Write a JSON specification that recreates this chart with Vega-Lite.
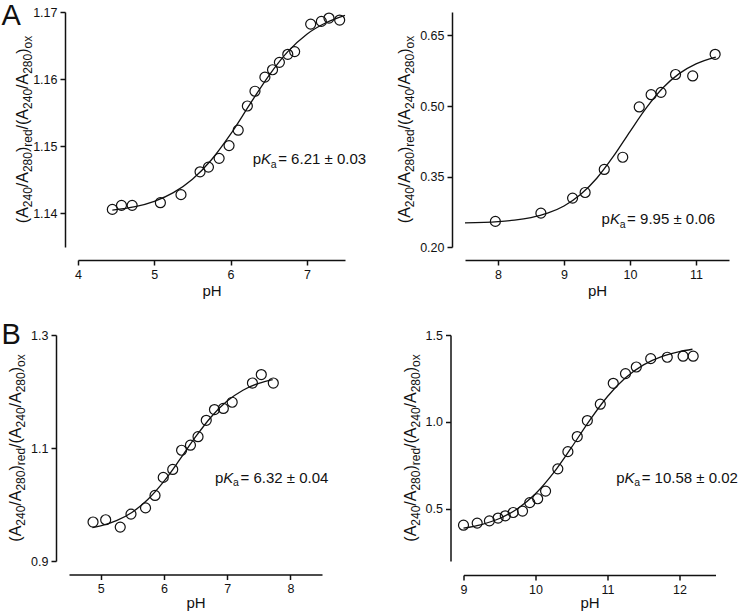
{
  "$schema": "https://vega.github.io/schema/vega-lite/v6.json",
  "background": "white",
  "padding": {"left": 0, "top": 1, "right": 5, "bottom": 5},
  "config": {
    "view": {"stroke": null},
    "font": "Liberation Sans",
    "text": {"font": "Liberation Sans", "color": "#111"},
    "axis": {
      "grid": false,
      "domainColor": "#111",
      "domainWidth": 1.5,
      "tickColor": "#111",
      "tickWidth": 1.5,
      "tickSize": 5,
      "labelColor": "#111",
      "labelFont": "Liberation Sans",
      "labelFontSize": 12.5,
      "labelPadding": 3,
      "titleFont": "Liberation Sans",
      "titleFontSize": 15,
      "titleFontWeight": "normal",
      "titleColor": "#111"
    }
  },
  "datasets": {
    "a1_obs": [
      {"pH": 4.45, "ratio": 1.1406}, {"pH": 4.57, "ratio": 1.1412}, {"pH": 4.71, "ratio": 1.1412},
      {"pH": 5.08, "ratio": 1.1416}, {"pH": 5.35, "ratio": 1.1428}, {"pH": 5.60, "ratio": 1.1462},
      {"pH": 5.71, "ratio": 1.1469}, {"pH": 5.85, "ratio": 1.1482}, {"pH": 5.98, "ratio": 1.1501},
      {"pH": 6.10, "ratio": 1.1524}, {"pH": 6.22, "ratio": 1.1560}, {"pH": 6.32, "ratio": 1.1582},
      {"pH": 6.45, "ratio": 1.1603}, {"pH": 6.55, "ratio": 1.1614}, {"pH": 6.64, "ratio": 1.1625},
      {"pH": 6.75, "ratio": 1.1637}, {"pH": 6.84, "ratio": 1.1641}, {"pH": 7.05, "ratio": 1.1682},
      {"pH": 7.19, "ratio": 1.1686}, {"pH": 7.29, "ratio": 1.1691}, {"pH": 7.43, "ratio": 1.1688}
    ],
    "a1_fit": [
      {"pH": 4.45, "ratio": 1.1405}, {"pH": 4.75, "ratio": 1.1410}, {"pH": 5.0, "ratio": 1.1418},
      {"pH": 5.25, "ratio": 1.1431}, {"pH": 5.5, "ratio": 1.1451}, {"pH": 5.75, "ratio": 1.1480},
      {"pH": 6.0, "ratio": 1.1518}, {"pH": 6.25, "ratio": 1.1562}, {"pH": 6.5, "ratio": 1.1605},
      {"pH": 6.75, "ratio": 1.1641}, {"pH": 7.0, "ratio": 1.1667}, {"pH": 7.25, "ratio": 1.1684},
      {"pH": 7.5, "ratio": 1.1695}
    ],
    "a2_obs": [
      {"pH": 7.96, "ratio": 0.2545}, {"pH": 8.65, "ratio": 0.272}, {"pH": 9.13, "ratio": 0.304},
      {"pH": 9.32, "ratio": 0.316}, {"pH": 9.61, "ratio": 0.365}, {"pH": 9.89, "ratio": 0.391},
      {"pH": 10.14, "ratio": 0.498}, {"pH": 10.32, "ratio": 0.524}, {"pH": 10.47, "ratio": 0.529},
      {"pH": 10.69, "ratio": 0.567}, {"pH": 10.95, "ratio": 0.564}, {"pH": 11.29, "ratio": 0.610}
    ],
    "a2_fit": [
      {"pH": 7.5, "ratio": 0.2513}, {"pH": 8.0, "ratio": 0.2541}, {"pH": 8.25, "ratio": 0.2572},
      {"pH": 8.5, "ratio": 0.2627}, {"pH": 8.75, "ratio": 0.2719}, {"pH": 9.0, "ratio": 0.2873},
      {"pH": 9.25, "ratio": 0.3116}, {"pH": 9.5, "ratio": 0.3469}, {"pH": 9.75, "ratio": 0.3931},
      {"pH": 10.0, "ratio": 0.4457}, {"pH": 10.25, "ratio": 0.4965}, {"pH": 10.5, "ratio": 0.5387},
      {"pH": 10.75, "ratio": 0.5694}, {"pH": 11.0, "ratio": 0.5897}, {"pH": 11.3, "ratio": 0.6041}
    ],
    "b1_obs": [
      {"pH": 4.88, "ratio": 0.969}, {"pH": 5.08, "ratio": 0.973}, {"pH": 5.31, "ratio": 0.960},
      {"pH": 5.48, "ratio": 0.983}, {"pH": 5.71, "ratio": 0.994}, {"pH": 5.86, "ratio": 1.016},
      {"pH": 5.99, "ratio": 1.048}, {"pH": 6.14, "ratio": 1.062}, {"pH": 6.28, "ratio": 1.096},
      {"pH": 6.42, "ratio": 1.105}, {"pH": 6.54, "ratio": 1.120}, {"pH": 6.67, "ratio": 1.149},
      {"pH": 6.80, "ratio": 1.168}, {"pH": 6.94, "ratio": 1.170}, {"pH": 7.08, "ratio": 1.181},
      {"pH": 7.40, "ratio": 1.215}, {"pH": 7.54, "ratio": 1.230}, {"pH": 7.73, "ratio": 1.215}
    ],
    "b1_fit": [
      {"pH": 4.87, "ratio": 0.9590}, {"pH": 5.0, "ratio": 0.9622}, {"pH": 5.25, "ratio": 0.9715},
      {"pH": 5.5, "ratio": 0.9864}, {"pH": 5.75, "ratio": 1.0093}, {"pH": 6.0, "ratio": 1.0408},
      {"pH": 6.25, "ratio": 1.0793}, {"pH": 6.5, "ratio": 1.1195}, {"pH": 6.75, "ratio": 1.1554},
      {"pH": 7.0, "ratio": 1.1831}, {"pH": 7.25, "ratio": 1.2023}, {"pH": 7.5, "ratio": 1.2145},
      {"pH": 7.72, "ratio": 1.2212}
    ],
    "b2_obs": [
      {"pH": 9.00, "ratio": 0.406}, {"pH": 9.19, "ratio": 0.418}, {"pH": 9.36, "ratio": 0.431},
      {"pH": 9.48, "ratio": 0.447}, {"pH": 9.58, "ratio": 0.460}, {"pH": 9.69, "ratio": 0.479},
      {"pH": 9.82, "ratio": 0.487}, {"pH": 9.92, "ratio": 0.536}, {"pH": 10.03, "ratio": 0.558},
      {"pH": 10.14, "ratio": 0.602}, {"pH": 10.31, "ratio": 0.730}, {"pH": 10.45, "ratio": 0.829},
      {"pH": 10.58, "ratio": 0.916}, {"pH": 10.72, "ratio": 1.008}, {"pH": 10.90, "ratio": 1.102},
      {"pH": 11.08, "ratio": 1.222}, {"pH": 11.25, "ratio": 1.278}, {"pH": 11.40, "ratio": 1.316},
      {"pH": 11.60, "ratio": 1.364}, {"pH": 11.83, "ratio": 1.372}, {"pH": 12.05, "ratio": 1.378},
      {"pH": 12.19, "ratio": 1.378}
    ],
    "b2_fit": [
      {"pH": 9.0, "ratio": 0.389}, {"pH": 9.25, "ratio": 0.4097}, {"pH": 9.5, "ratio": 0.4445},
      {"pH": 9.75, "ratio": 0.5008}, {"pH": 10.0, "ratio": 0.5868}, {"pH": 10.25, "ratio": 0.7066},
      {"pH": 10.5, "ratio": 0.8532}, {"pH": 10.75, "ratio": 1.0076}, {"pH": 11.0, "ratio": 1.1462},
      {"pH": 11.25, "ratio": 1.2538}, {"pH": 11.5, "ratio": 1.3284}, {"pH": 11.75, "ratio": 1.376},
      {"pH": 12.0, "ratio": 1.4049}, {"pH": 12.18, "ratio": 1.418}
    ]
  },
  "spacing": 22,
  "vconcat": [
    {
      "spacing": 29,
      "hconcat": [
        {
          "spacing": 0,
          "hconcat": [
            {"width": 1, "height": 1, "data": {"values": [{}]}, "mark": {"type": "point", "opacity": 0, "size": 1}},
            {
              "width": 267, "height": 235,
              "layer": [
                {"data": {"name": "a1_fit"}, "mark": {"type": "line", "color": "#111", "strokeWidth": 1.3, "interpolate": "monotone"},
                 "encoding": {
                   "x": {"field": "pH", "type": "quantitative", "scale": {"domain": [4, 7.5], "nice": false, "zero": false}, "axis": {"values": [4, 5, 6, 7], "format": "d", "title": "pH", "offset": 13, "labelFlush": false, "titlePadding": 3}},
                   "y": {"field": "ratio", "type": "quantitative", "scale": {"domain": [1.135, 1.17], "nice": false, "zero": false}, "axis": {"values": [1.14, 1.15, 1.16, 1.17], "format": ".2f", "title": null, "offset": 13}}
                 }},
                {"data": {"name": "a1_obs"}, "mark": {"type": "point", "shape": "circle", "filled": false, "size": 100, "color": "#111", "strokeWidth": 1.2, "opacity": 1},
                 "encoding": {"x": {"field": "pH", "type": "quantitative"}, "y": {"field": "ratio", "type": "quantitative"}}},
                {"data": {"values": [{}]},
                 "encoding": {"x": {"datum": 4, "type": "quantitative"}, "y": {"datum": 1.1525, "type": "quantitative"}},
                 "layer": [
                   {"mark": {"type": "text", "text": "(A", "angle": 270, "align": "left", "baseline": "alphabetic", "fontSize": 16, "dx": -93.7, "dy": -50}},
                   {"mark": {"type": "text", "text": "240", "angle": 270, "align": "left", "baseline": "alphabetic", "fontSize": 12, "dx": -77.7, "dy": -46}},
                   {"mark": {"type": "text", "text": "/A", "angle": 270, "align": "left", "baseline": "alphabetic", "fontSize": 16, "dx": -57.7, "dy": -50}},
                   {"mark": {"type": "text", "text": "280", "angle": 270, "align": "left", "baseline": "alphabetic", "fontSize": 12, "dx": -42.6, "dy": -46}},
                   {"mark": {"type": "text", "text": ")", "angle": 270, "align": "left", "baseline": "alphabetic", "fontSize": 16, "dx": -22.5, "dy": -50}},
                   {"mark": {"type": "text", "text": "red", "angle": 270, "align": "left", "baseline": "alphabetic", "fontSize": 12, "dx": -17.2, "dy": -46}},
                   {"mark": {"type": "text", "text": "/(A", "angle": 270, "align": "left", "baseline": "alphabetic", "fontSize": 16, "dx": 0.1, "dy": -50}},
                   {"mark": {"type": "text", "text": "240", "angle": 270, "align": "left", "baseline": "alphabetic", "fontSize": 12, "dx": 20.6, "dy": -46}},
                   {"mark": {"type": "text", "text": "/A", "angle": 270, "align": "left", "baseline": "alphabetic", "fontSize": 16, "dx": 40.6, "dy": -50}},
                   {"mark": {"type": "text", "text": "280", "angle": 270, "align": "left", "baseline": "alphabetic", "fontSize": 12, "dx": 55.7, "dy": -46}},
                   {"mark": {"type": "text", "text": ")", "angle": 270, "align": "left", "baseline": "alphabetic", "fontSize": 16, "dx": 75.7, "dy": -50}},
                   {"mark": {"type": "text", "text": "ox", "angle": 270, "align": "left", "baseline": "alphabetic", "fontSize": 12, "dx": 81.0, "dy": -46}}
                 ]},
                {"data": {"values": [{}]},
                 "encoding": {"x": {"datum": 4, "type": "quantitative"}, "y": {"datum": 1.17, "type": "quantitative"}},
                 "mark": {"type": "text", "text": "A", "align": "left", "baseline": "alphabetic", "fontSize": 29, "dx": -76.5, "dy": 12.6}},
                {"data": {"values": [{}]},
                 "encoding": {"x": {"datum": 6.29, "type": "quantitative"}, "y": {"datum": 1.1473, "type": "quantitative"}},
                 "layer": [
                   {"mark": {"type": "text", "text": "p", "align": "left", "baseline": "alphabetic", "fontSize": 15, "dx": 0}},
                   {"mark": {"type": "text", "text": "K", "align": "left", "baseline": "alphabetic", "fontSize": 15, "fontStyle": "italic", "dx": 8.3}},
                   {"mark": {"type": "text", "text": "a", "align": "left", "baseline": "alphabetic", "fontSize": 10.5, "dx": 18.1, "dy": 3.5}},
                   {"mark": {"type": "text", "text": " = 6.21 ± 0.03", "align": "left", "baseline": "alphabetic", "fontSize": 15, "dx": 25.5}}
                 ]}
              ]
            }
          ]
        },
        {
          "width": 264, "height": 235,
          "layer": [
            {"data": {"name": "a2_fit"}, "mark": {"type": "line", "color": "#111", "strokeWidth": 1.3, "interpolate": "monotone"},
             "encoding": {
               "x": {"field": "pH", "type": "quantitative", "scale": {"domain": [7.5, 11.5], "nice": false, "zero": false}, "axis": {"values": [8, 9, 10, 11], "format": "d", "title": "pH", "offset": 13, "labelFlush": false, "titlePadding": 3}},
               "y": {"field": "ratio", "type": "quantitative", "scale": {"domain": [0.2, 0.7], "nice": false, "zero": false}, "axis": {"values": [0.2, 0.35, 0.5, 0.65], "format": ".2f", "title": null, "offset": 13}}
             }},
            {"data": {"name": "a2_obs"}, "mark": {"type": "point", "shape": "circle", "filled": false, "size": 100, "color": "#111", "strokeWidth": 1.2, "opacity": 1},
             "encoding": {"x": {"field": "pH", "type": "quantitative"}, "y": {"field": "ratio", "type": "quantitative"}}},
            {"data": {"values": [{}]},
             "encoding": {"x": {"datum": 7.5, "type": "quantitative"}, "y": {"datum": 0.45, "type": "quantitative"}},
             "layer": [
               {"mark": {"type": "text", "text": "(A", "angle": 270, "align": "left", "baseline": "alphabetic", "fontSize": 16, "dx": -93.7, "dy": -55}},
               {"mark": {"type": "text", "text": "240", "angle": 270, "align": "left", "baseline": "alphabetic", "fontSize": 12, "dx": -77.7, "dy": -51}},
               {"mark": {"type": "text", "text": "/A", "angle": 270, "align": "left", "baseline": "alphabetic", "fontSize": 16, "dx": -57.7, "dy": -55}},
               {"mark": {"type": "text", "text": "280", "angle": 270, "align": "left", "baseline": "alphabetic", "fontSize": 12, "dx": -42.6, "dy": -51}},
               {"mark": {"type": "text", "text": ")", "angle": 270, "align": "left", "baseline": "alphabetic", "fontSize": 16, "dx": -22.5, "dy": -55}},
               {"mark": {"type": "text", "text": "red", "angle": 270, "align": "left", "baseline": "alphabetic", "fontSize": 12, "dx": -17.2, "dy": -51}},
               {"mark": {"type": "text", "text": "/(A", "angle": 270, "align": "left", "baseline": "alphabetic", "fontSize": 16, "dx": 0.1, "dy": -55}},
               {"mark": {"type": "text", "text": "240", "angle": 270, "align": "left", "baseline": "alphabetic", "fontSize": 12, "dx": 20.6, "dy": -51}},
               {"mark": {"type": "text", "text": "/A", "angle": 270, "align": "left", "baseline": "alphabetic", "fontSize": 16, "dx": 40.6, "dy": -55}},
               {"mark": {"type": "text", "text": "280", "angle": 270, "align": "left", "baseline": "alphabetic", "fontSize": 12, "dx": 55.7, "dy": -51}},
               {"mark": {"type": "text", "text": ")", "angle": 270, "align": "left", "baseline": "alphabetic", "fontSize": 16, "dx": 75.7, "dy": -55}},
               {"mark": {"type": "text", "text": "ox", "angle": 270, "align": "left", "baseline": "alphabetic", "fontSize": 12, "dx": 81.0, "dy": -51}}
             ]},
            {"data": {"values": [{}]},
             "encoding": {"x": {"datum": 9.57, "type": "quantitative"}, "y": {"datum": 0.2479, "type": "quantitative"}},
             "layer": [
               {"mark": {"type": "text", "text": "p", "align": "left", "baseline": "alphabetic", "fontSize": 15, "dx": 0}},
               {"mark": {"type": "text", "text": "K", "align": "left", "baseline": "alphabetic", "fontSize": 15, "fontStyle": "italic", "dx": 8.3}},
               {"mark": {"type": "text", "text": "a", "align": "left", "baseline": "alphabetic", "fontSize": 10.5, "dx": 18.1, "dy": 3.5}},
               {"mark": {"type": "text", "text": " = 9.95 ± 0.06", "align": "left", "baseline": "alphabetic", "fontSize": 15, "dx": 25.5}}
             ]}
          ]
        }
      ]
    },
    {
      "spacing": 72.5,
      "hconcat": [
        {
          "spacing": 0,
          "hconcat": [
            {"width": 1, "height": 1, "data": {"values": [{}]}, "mark": {"type": "point", "opacity": 0, "size": 1}},
            {
              "width": 253, "height": 226,
              "layer": [
                {"data": {"name": "b1_fit"}, "mark": {"type": "line", "color": "#111", "strokeWidth": 1.3, "interpolate": "monotone"},
                 "encoding": {
                   "x": {"field": "pH", "type": "quantitative", "scale": {"domain": [4.5, 8.5], "nice": false, "zero": false}, "axis": {"values": [5, 6, 7, 8], "format": "d", "title": "pH", "offset": 13.5, "labelFlush": false, "titlePadding": 0}},
                   "y": {"field": "ratio", "type": "quantitative", "scale": {"domain": [0.9, 1.3], "nice": false, "zero": false}, "axis": {"values": [0.9, 1.1, 1.3], "format": ".1f", "title": null, "offset": 13}}
                 }},
                {"data": {"name": "b1_obs"}, "mark": {"type": "point", "shape": "circle", "filled": false, "size": 100, "color": "#111", "strokeWidth": 1.2, "opacity": 1},
                 "encoding": {"x": {"field": "pH", "type": "quantitative"}, "y": {"field": "ratio", "type": "quantitative"}}},
                {"data": {"values": [{}]},
                 "encoding": {"x": {"datum": 4.5, "type": "quantitative"}, "y": {"datum": 1.1, "type": "quantitative"}},
                 "layer": [
                   {"mark": {"type": "text", "text": "(A", "angle": 270, "align": "left", "baseline": "alphabetic", "fontSize": 16, "dx": -93.7, "dy": -48}},
                   {"mark": {"type": "text", "text": "240", "angle": 270, "align": "left", "baseline": "alphabetic", "fontSize": 12, "dx": -77.7, "dy": -44}},
                   {"mark": {"type": "text", "text": "/A", "angle": 270, "align": "left", "baseline": "alphabetic", "fontSize": 16, "dx": -57.7, "dy": -48}},
                   {"mark": {"type": "text", "text": "280", "angle": 270, "align": "left", "baseline": "alphabetic", "fontSize": 12, "dx": -42.6, "dy": -44}},
                   {"mark": {"type": "text", "text": ")", "angle": 270, "align": "left", "baseline": "alphabetic", "fontSize": 16, "dx": -22.5, "dy": -48}},
                   {"mark": {"type": "text", "text": "red", "angle": 270, "align": "left", "baseline": "alphabetic", "fontSize": 12, "dx": -17.2, "dy": -44}},
                   {"mark": {"type": "text", "text": "/(A", "angle": 270, "align": "left", "baseline": "alphabetic", "fontSize": 16, "dx": 0.1, "dy": -48}},
                   {"mark": {"type": "text", "text": "240", "angle": 270, "align": "left", "baseline": "alphabetic", "fontSize": 12, "dx": 20.6, "dy": -44}},
                   {"mark": {"type": "text", "text": "/A", "angle": 270, "align": "left", "baseline": "alphabetic", "fontSize": 16, "dx": 40.6, "dy": -48}},
                   {"mark": {"type": "text", "text": "280", "angle": 270, "align": "left", "baseline": "alphabetic", "fontSize": 12, "dx": 55.7, "dy": -44}},
                   {"mark": {"type": "text", "text": ")", "angle": 270, "align": "left", "baseline": "alphabetic", "fontSize": 16, "dx": 75.7, "dy": -48}},
                   {"mark": {"type": "text", "text": "ox", "angle": 270, "align": "left", "baseline": "alphabetic", "fontSize": 12, "dx": 81.0, "dy": -44}}
                 ]},
                {"data": {"values": [{}]},
                 "encoding": {"x": {"datum": 4.5, "type": "quantitative"}, "y": {"datum": 1.3, "type": "quantitative"}},
                 "mark": {"type": "text", "text": "B", "align": "left", "baseline": "alphabetic", "fontSize": 29, "dx": -67.5, "dy": 9.1}},
                {"data": {"values": [{}]},
                 "encoding": {"x": {"datum": 6.808, "type": "quantitative"}, "y": {"datum": 1.0386, "type": "quantitative"}},
                 "layer": [
                   {"mark": {"type": "text", "text": "p", "align": "left", "baseline": "alphabetic", "fontSize": 15, "dx": 0}},
                   {"mark": {"type": "text", "text": "K", "align": "left", "baseline": "alphabetic", "fontSize": 15, "fontStyle": "italic", "dx": 8.3}},
                   {"mark": {"type": "text", "text": "a", "align": "left", "baseline": "alphabetic", "fontSize": 10.5, "dx": 18.1, "dy": 3.5}},
                   {"mark": {"type": "text", "text": " = 6.32 ± 0.04", "align": "left", "baseline": "alphabetic", "fontSize": 15, "dx": 25.5}}
                 ]}
              ]
            }
          ]
        },
        {
          "width": 252, "height": 226,
          "layer": [
            {"data": {"name": "b2_fit"}, "mark": {"type": "line", "color": "#111", "strokeWidth": 1.3, "interpolate": "monotone"},
             "encoding": {
               "x": {"field": "pH", "type": "quantitative", "scale": {"domain": [9, 12.5], "nice": false, "zero": false}, "axis": {"values": [9, 10, 11, 12], "format": "d", "title": "pH", "offset": 14, "labelFlush": false, "titlePadding": 0}},
               "y": {"field": "ratio", "type": "quantitative", "scale": {"domain": [0.2, 1.5], "nice": false, "zero": false}, "axis": {"values": [0.5, 1.0, 1.5], "format": ".1f", "title": null, "offset": 13}}
             }},
            {"data": {"name": "b2_obs"}, "mark": {"type": "point", "shape": "circle", "filled": false, "size": 100, "color": "#111", "strokeWidth": 1.2, "opacity": 1},
             "encoding": {"x": {"field": "pH", "type": "quantitative"}, "y": {"field": "ratio", "type": "quantitative"}}},
            {"data": {"values": [{}]},
             "encoding": {"x": {"datum": 9, "type": "quantitative"}, "y": {"datum": 0.85, "type": "quantitative"}},
             "layer": [
               {"mark": {"type": "text", "text": "(A", "angle": 270, "align": "left", "baseline": "alphabetic", "fontSize": 16, "dx": -93.7, "dy": -48}},
               {"mark": {"type": "text", "text": "240", "angle": 270, "align": "left", "baseline": "alphabetic", "fontSize": 12, "dx": -77.7, "dy": -44}},
               {"mark": {"type": "text", "text": "/A", "angle": 270, "align": "left", "baseline": "alphabetic", "fontSize": 16, "dx": -57.7, "dy": -48}},
               {"mark": {"type": "text", "text": "280", "angle": 270, "align": "left", "baseline": "alphabetic", "fontSize": 12, "dx": -42.6, "dy": -44}},
               {"mark": {"type": "text", "text": ")", "angle": 270, "align": "left", "baseline": "alphabetic", "fontSize": 16, "dx": -22.5, "dy": -48}},
               {"mark": {"type": "text", "text": "red", "angle": 270, "align": "left", "baseline": "alphabetic", "fontSize": 12, "dx": -17.2, "dy": -44}},
               {"mark": {"type": "text", "text": "/(A", "angle": 270, "align": "left", "baseline": "alphabetic", "fontSize": 16, "dx": 0.1, "dy": -48}},
               {"mark": {"type": "text", "text": "240", "angle": 270, "align": "left", "baseline": "alphabetic", "fontSize": 12, "dx": 20.6, "dy": -44}},
               {"mark": {"type": "text", "text": "/A", "angle": 270, "align": "left", "baseline": "alphabetic", "fontSize": 16, "dx": 40.6, "dy": -48}},
               {"mark": {"type": "text", "text": "280", "angle": 270, "align": "left", "baseline": "alphabetic", "fontSize": 12, "dx": 55.7, "dy": -44}},
               {"mark": {"type": "text", "text": ")", "angle": 270, "align": "left", "baseline": "alphabetic", "fontSize": 16, "dx": 75.7, "dy": -48}},
               {"mark": {"type": "text", "text": "ox", "angle": 270, "align": "left", "baseline": "alphabetic", "fontSize": 12, "dx": 81.0, "dy": -44}}
             ]},
            {"data": {"values": [{}]},
             "encoding": {"x": {"datum": 11.12, "type": "quantitative"}, "y": {"datum": 0.6504, "type": "quantitative"}},
             "layer": [
               {"mark": {"type": "text", "text": "p", "align": "left", "baseline": "alphabetic", "fontSize": 15, "dx": 0}},
               {"mark": {"type": "text", "text": "K", "align": "left", "baseline": "alphabetic", "fontSize": 15, "fontStyle": "italic", "dx": 8.3}},
               {"mark": {"type": "text", "text": "a", "align": "left", "baseline": "alphabetic", "fontSize": 10.5, "dx": 18.1, "dy": 3.5}},
               {"mark": {"type": "text", "text": " = 10.58 ± 0.02", "align": "left", "baseline": "alphabetic", "fontSize": 15, "dx": 25.5}}
             ]}
          ]
        }
      ]
    }
  ]
}
